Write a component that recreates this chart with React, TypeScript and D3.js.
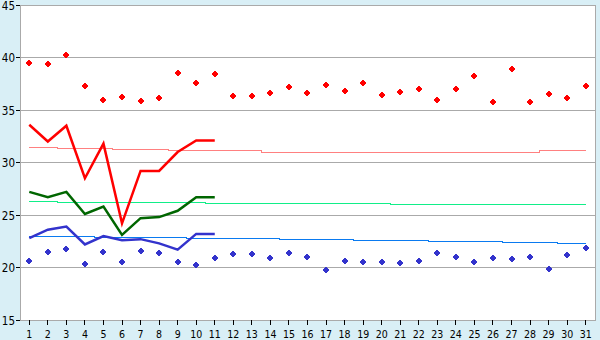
import React from "react";
import * as d3 from "d3";

const days = ["1","2","3","4","5","6","7","8","9","10","11","12","13","14","15","16","17","18","19","20","21","22","23","24","25","26","27","28","29","30","31"];
const yTicks = [15, 20, 25, 30, 35, 40, 45];

const maxDots = [39.5,39.4,40.2,37.3,36.0,36.2,35.9,36.1,38.5,37.6,38.4,36.3,36.3,36.6,37.2,36.6,37.4,36.8,37.6,36.4,36.7,37.0,36.0,37.0,38.2,35.8,38.9,35.8,36.5,36.1,37.3];
const minDots = [20.6,21.5,21.8,20.3,21.5,20.5,21.6,21.4,20.5,20.2,20.9,21.3,21.3,20.9,21.4,21.0,19.8,20.6,20.5,20.5,20.4,20.6,21.4,21.0,20.5,20.9,20.8,21.0,19.9,21.2,21.9];

const maxLine = [33.6,32.0,33.5,28.5,31.8,24.2,29.2,29.2,31.0,32.1,32.1];
const meanLine = [27.2,26.7,27.2,25.1,25.8,23.1,24.7,24.8,25.4,26.7,26.7];
const minLine = [22.8,23.6,23.9,22.2,23.0,22.6,22.7,22.3,21.7,23.2,23.2];

const maxNormal = [31.43,31.43,31.33,31.33,31.33,31.24,31.24,31.24,31.14,31.14,31.14,31.14,31.14,30.95,30.95,30.95,30.95,30.95,30.95,30.95,30.95,30.95,30.95,30.95,30.95,30.95,30.95,30.95,31.14,31.14,31.14];
const meanNormal = [26.29,26.29,26.19,26.19,26.19,26.19,26.19,26.19,26.19,26.19,26.10,26.10,26.10,26.10,26.10,26.10,26.10,26.10,26.10,26.10,26.0,26.0,26.0,26.0,26.0,26.0,26.0,26.0,26.0,26.0,26.0];
const minNormal = [22.95,22.95,22.95,22.95,22.86,22.86,22.86,22.86,22.86,22.76,22.76,22.76,22.76,22.76,22.67,22.67,22.67,22.67,22.57,22.57,22.57,22.57,22.48,22.48,22.48,22.48,22.38,22.38,22.38,22.29,22.29];

const W = 600, H = 340;
const L = 20, R = 595, T = 5, B = 320;

const x = d3.scaleBand<string>().domain(days).range([L, R]).paddingInner(0).paddingOuter(0);
const cx = (i: number) => (x(days[i]) as number) + x.bandwidth() / 2;
const y = d3.scaleLinear().domain([15, 45]).range([B, T]);

const FONT = "'DejaVu Sans Condensed', 'DejaVu Sans', sans-serif";
const marker = "M-1,-3h2v1h1v1h1v2h-1v1h-1v1h-2v-1h-1v-1h-1v-2h1v-1h1z";

function linePath(vals: number[], curve: d3.CurveFactory) {
  return d3.line<number>().x((_, i) => cx(i)).y((v) => y(v)).curve(curve)(vals) || "";
}

export default function App() {
  const gridY = (v: number) => Math.floor(y(v)) + 0.5;
  return (
    <svg width={W} height={H} style={{ position: "absolute", left: 0, top: 0, display: "block" }}>
      <rect x={0} y={0} width={W} height={H} fill="#D9EFF6" />
      <rect x={L} y={T} width={R - L} height={B - T} fill="#FFFFFF" />
      {yTicks.map((v) => (
        <line key={"g" + v} x1={L} x2={R} y1={gridY(v)} y2={gridY(v)} stroke="#AAAAAA" strokeWidth={1} shapeRendering="crispEdges" />
      ))}
      <line x1={L + 0.5} x2={L + 0.5} y1={T} y2={B + 1} stroke="#AAAAAA" shapeRendering="crispEdges" />
      <line x1={R + 0.5} x2={R + 0.5} y1={T} y2={B + 1} stroke="#AAAAAA" shapeRendering="crispEdges" />
      {yTicks.map((v) => (
        <g key={"yt" + v}>
          <line x1={16} x2={L} y1={gridY(v)} y2={gridY(v)} stroke="#000" shapeRendering="crispEdges" />
          <text x={15} y={gridY(v)} dy="0.36em" textAnchor="end" fontFamily={FONT} fontSize={11.5} fill="#000">{v}</text>
        </g>
      ))}
      {days.map((d, i) => (
        <g key={"xt" + d}>
          <line x1={Math.floor(cx(i)) + 0.5} x2={Math.floor(cx(i)) + 0.5} y1={B} y2={B + 5} stroke="#000" shapeRendering="crispEdges" />
          <text x={cx(i)} y={338} textAnchor="middle" fontFamily={FONT} fontSize={10.5} fill="#000">{d}</text>
        </g>
      ))}
      <path d={linePath(maxNormal, d3.curveStep)} fill="none" stroke="#FF8080" strokeWidth={1} shapeRendering="crispEdges" />
      <path d={linePath(meanNormal, d3.curveStep)} fill="none" stroke="#11EE88" strokeWidth={1} shapeRendering="crispEdges" />
      <path d={linePath(minNormal, d3.curveStep)} fill="none" stroke="#0A7AF0" strokeWidth={1} shapeRendering="crispEdges" />
      <path d={linePath(maxLine, d3.curveLinear)} fill="none" stroke="#FF0000" strokeWidth={2.5} />
      <path d={linePath(meanLine, d3.curveLinear)} fill="none" stroke="#006600" strokeWidth={2.5} />
      <path d={linePath(minLine, d3.curveLinear)} fill="none" stroke="#3333CC" strokeWidth={2.5} />
      {maxDots.map((v, i) => (
        <path key={"mx" + i} d={marker} transform={`translate(${Math.round(cx(i))},${Math.round(y(v))})`} fill="#FF0000" shapeRendering="crispEdges" />
      ))}
      {minDots.map((v, i) => (
        <path key={"mn" + i} d={marker} transform={`translate(${Math.round(cx(i))},${Math.round(y(v))})`} fill="#3333CC" shapeRendering="crispEdges" />
      ))}
    </svg>
  );
}
